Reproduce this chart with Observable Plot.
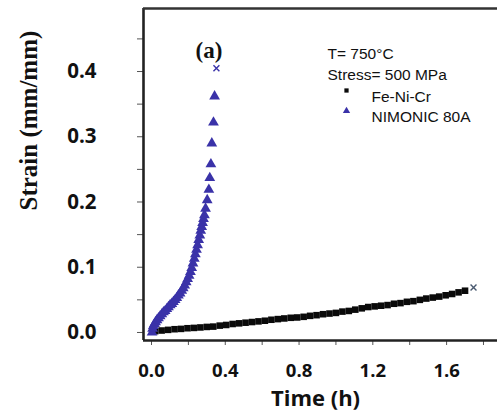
<!DOCTYPE html>
<html>
<head>
<meta charset="utf-8">
<script src="https://cdn.jsdelivr.net/npm/d3@7"></script>
<script src="https://cdn.jsdelivr.net/npm/@observablehq/plot@0.6"></script>
<style>
  html, body { margin: 0; padding: 0; background: #fff; }
  #chart svg { display: block; }
</style>
</head>
<body>
<div id="chart"></div>
<script>
// ---- data ----
const feTime = [0.02, 0.055, 0.09, 0.125, 0.16, 0.195, 0.23, 0.265, 0.30, 0.335, 0.37, 0.405, 0.44, 0.475, 0.51, 0.545, 0.58, 0.615, 0.65, 0.685, 0.72, 0.755, 0.79, 0.825, 0.86, 0.895, 0.93, 0.965, 1.0, 1.035, 1.07, 1.105, 1.14, 1.175, 1.21, 1.245, 1.28, 1.315, 1.35, 1.385, 1.42, 1.455, 1.49, 1.525, 1.56, 1.595, 1.63, 1.665, 1.70];
const feStrain = [0.002, 0.003, 0.004, 0.005, 0.0055, 0.0065, 0.007, 0.0077, 0.0085, 0.009, 0.0105, 0.0115, 0.013, 0.014, 0.015, 0.016, 0.017, 0.018, 0.0195, 0.0205, 0.0215, 0.0225, 0.023, 0.024, 0.0255, 0.0265, 0.028, 0.029, 0.030, 0.032, 0.033, 0.035, 0.037, 0.039, 0.040, 0.041, 0.042, 0.044, 0.045, 0.047, 0.048, 0.050, 0.052, 0.0535, 0.055, 0.057, 0.059, 0.0615, 0.064];

const niTime = [0.003, 0.006, 0.010, 0.016, 0.022, 0.030, 0.038, 0.047, 0.056, 0.065, 0.074, 0.083, 0.092, 0.101, 0.110, 0.119, 0.128, 0.137, 0.146, 0.155, 0.164, 0.172, 0.180, 0.188, 0.196, 0.204, 0.211, 0.218, 0.225, 0.232, 0.238, 0.244, 0.250, 0.256, 0.262, 0.267, 0.272, 0.277, 0.282, 0.287, 0.293, 0.302, 0.311, 0.316, 0.322, 0.327, 0.336, 0.342];
const niStrain = [0.000, 0.006, 0.010, 0.013, 0.016, 0.019, 0.022, 0.025, 0.028, 0.031, 0.033, 0.036, 0.039, 0.042, 0.044, 0.047, 0.050, 0.053, 0.057, 0.060, 0.064, 0.068, 0.072, 0.077, 0.082, 0.087, 0.093, 0.099, 0.106, 0.113, 0.120, 0.127, 0.134, 0.142, 0.149, 0.156, 0.162, 0.168, 0.174, 0.180, 0.190, 0.203, 0.219, 0.237, 0.258, 0.290, 0.322, 0.362];

// rupture points (marked with "x")
const feRupture = [1.746, 0.069];
const niRupture = [0.352, 0.405];

const xMajorTicks = [0, 0.4, 0.8, 1.2, 1.6];
const xMinorTicks = [0.2, 0.6, 1.0, 1.4, 1.8];
const yMajorTicks = [0, 0.1, 0.2, 0.3, 0.4];
const yMinorTicks = [0.05, 0.15, 0.25, 0.35, 0.45];

const xDomain = [-0.0434, 1.876];
const yDomain = [-0.0123, 0.4966];

const seriesNames = ["Fe-Ni-Cr", "NIMONIC 80A"];
const conditionLines = ["T= 750°C", "Stress= 500 MPa"];
const panelLabel = "(a)";
const xTitle = "Time (h)";
const yTitle = "Strain (mm/mm)";

// ---- build tables ----
const fe = feTime.map((t, i) => ({t, s: feStrain[i]}));
const ni = niTime.map((t, i) => ({t, s: niStrain[i]}));

const blue = "#3a32a8";
const axisFont = "'Open Sans', 'DejaVu Sans', sans-serif";
const serif = "'Liberation Serif', 'DejaVu Serif', serif";
const sans = "'Liberation Sans', Arial, sans-serif";

const chart = Plot.plot({
  width: 499,
  height: 416,
  marginLeft: 143,
  marginRight: 2,
  marginTop: 8,
  marginBottom: 76,
  style: {background: "#fff", color: "#111"},
  x: {domain: xDomain},
  y: {domain: yDomain},
  marks: [
    // axes
    Plot.axisX({ticks: xMajorTicks, tickSize: 5, tickPadding: 18, stroke: "#555",
      tickFormat: d3.format(".1f"), label: null,
      fontSize: 18.5, fontWeight: "bold", fontFamily: axisFont}),
    Plot.axisX({ticks: xMinorTicks, tickSize: 5, stroke: "#555", tickFormat: () => "", label: null}),
    Plot.axisY({ticks: yMajorTicks, tickSize: 6, tickPadding: 41, stroke: "#555",
      tickFormat: d3.format(".1f"), label: null,
      fontSize: 20.5, fontWeight: "bold", fontFamily: axisFont}),
    Plot.axisY({ticks: yMinorTicks, tickSize: 6, stroke: "#555", tickFormat: () => "", label: null}),
    // frame lines (left, top, bottom)
    Plot.ruleX([xDomain[0]], {stroke: "#222", strokeWidth: 2.6}),
    Plot.ruleY([yDomain[1]], {stroke: "#333", strokeWidth: 2.4}),
    Plot.ruleY([yDomain[0]], {stroke: "#222", strokeWidth: 2.4}),
    // data
    Plot.dot(fe, {x: "t", y: "s", symbol: "square", fill: "#0a0a0a", r: 3.7}),
    Plot.dot(ni, {x: "t", y: "s", symbol: "triangle", fill: blue, r: 4}),
    Plot.dot([feRupture], {x: d => d[0], y: d => d[1], symbol: "times", stroke: "#4a5a70", strokeWidth: 1.4, r: 2.8}),
    Plot.dot([niRupture], {x: d => d[0], y: d => d[1], symbol: "times", stroke: blue, strokeWidth: 1.4, r: 2.8}),
    // titles
    Plot.text([xTitle], {frameAnchor: "bottom", dx: -5, dy: 65, fontSize: 22, fontWeight: "bold",
      fontFamily: axisFont, fill: "#111"}),
    Plot.text([yTitle], {frameAnchor: "left", rotate: -90, dx: -115, dy: 36, fontSize: 25, fontWeight: "bold",
      fontFamily: serif, fill: "#111"}),
    Plot.text([panelLabel], {frameAnchor: "top-left", dx: 52, dy: 33, fontSize: 23, fontWeight: "bold",
      fontFamily: serif, fill: "#111"}),
    // legend
    Plot.text([conditionLines[0]], {frameAnchor: "top-left", textAnchor: "start", dx: 184, dy: 39.5,
      fontSize: 15.5, fontFamily: sans, fill: "#111"}),
    Plot.text([conditionLines[1]], {frameAnchor: "top-left", textAnchor: "start", dx: 184, dy: 60.5,
      fontSize: 15.5, fontFamily: sans, fill: "#111"}),
    Plot.text([seriesNames[0]], {frameAnchor: "top-left", textAnchor: "start", dx: 228, dy: 82.5,
      fontSize: 15.5, fontFamily: sans, fill: "#111"}),
    Plot.text([seriesNames[1]], {frameAnchor: "top-left", textAnchor: "start", dx: 228, dy: 102.5,
      fontSize: 15.5, fontFamily: sans, fill: "#111"}),
    Plot.dot([seriesNames[0]], {frameAnchor: "top-left", dx: 203, dy: 82, symbol: "square", fill: "#0a0a0a", r: 2.4}),
    Plot.dot([seriesNames[1]], {frameAnchor: "top-left", dx: 203, dy: 102.5, symbol: "triangle", fill: blue, r: 2.7})
  ]
});

document.getElementById("chart").appendChild(chart);
</script>
</body>
</html>
